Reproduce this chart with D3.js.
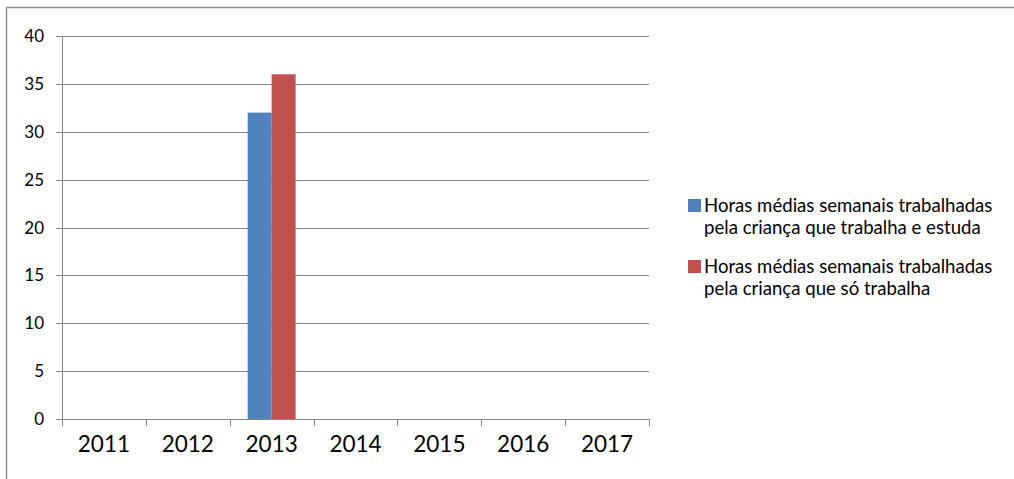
<!DOCTYPE html>
<html>
<head>
<meta charset="utf-8">
<script src="https://cdn.jsdelivr.net/npm/d3@7/dist/d3.min.js"></script>
<style>
  html, body { margin: 0; padding: 0; background: #fff; }
  svg { display: block; }
  text { font-family: Lato, "Open Sans", sans-serif; fill: #000; }
</style>
</head>
<body>
<svg id="chart" width="1014" height="479"></svg>
<script>
const categories = ["2011", "2012", "2013", "2014", "2015", "2016", "2017"];
const seriesNames = [
  ["Horas médias semanais trabalhadas", "pela criança que trabalha e estuda"],
  ["Horas médias semanais trabalhadas", "pela criança que só trabalha"]
];
const seriesA = [null, null, 32, null, null, null, null];
const seriesB = [null, null, 36, null, null, null, null];
const yTicks = [0, 5, 10, 15, 20, 25, 30, 35, 40];
const colors = ["#4F81BD", "#C0504D"];

(function () {
const svg = d3.select("#chart");
const gridColor = "#868686";

// outer frame (top and left visible)
svg.append("line").attr("x1", 6.5).attr("x2", 1014).attr("y1", 7.5).attr("y2", 7.5)
  .attr("stroke", "#8c8c8c").attr("stroke-width", 1.5);
svg.append("line").attr("x1", 6.5).attr("x2", 6.5).attr("y1", 7.5).attr("y2", 479)
  .attr("stroke", "#8c8c8c").attr("stroke-width", 1.5);

const pLeft = 62, pRight = 649, pTop = 36, pBottom = 419;
const x = d3.scaleBand().domain(categories).range([pLeft, pRight]).paddingInner(0).paddingOuter(0);
const y = d3.scaleLinear().domain([0, 40]).range([pBottom, pTop]);

// gridlines
svg.append("g").selectAll("line").data(yTicks).join("line")
  .attr("x1", pLeft - 6).attr("x2", pRight)
  .attr("y1", d => Math.round(y(d)) + 0.5).attr("y2", d => Math.round(y(d)) + 0.5)
  .attr("stroke", gridColor).attr("stroke-width", 1);

// y labels
svg.append("g").selectAll("text").data(yTicks).join("text")
  .attr("x", 44).attr("y", d => y(d)).attr("dy", "0.36em")
  .attr("text-anchor", "end").attr("font-size", 17).text(d => d);

// bars
const inner = d3.scaleBand().domain([0, 1]).range([0, x.bandwidth()]).paddingOuter(0.75).paddingInner(0);
const series = [seriesA, seriesB];
series.forEach((vals, si) => {
  svg.append("g").selectAll("rect").data(categories.map((c, i) => ({c, v: vals[i]})).filter(d => d.v != null))
    .join("rect")
    .attr("x", d => x(d.c) + inner(si))
    .attr("width", inner.bandwidth())
    .attr("y", d => y(d.v))
    .attr("height", d => y(0) - y(d.v))
    .attr("fill", colors[si]);
});

// axes lines
svg.append("line").attr("x1", pLeft + 0.5).attr("x2", pLeft + 0.5).attr("y1", pTop).attr("y2", pBottom + 7)
  .attr("stroke", gridColor);
svg.append("line").attr("x1", pLeft).attr("x2", pRight).attr("y1", pBottom + 0.5).attr("y2", pBottom + 0.5)
  .attr("stroke", gridColor);
const xEdges = categories.map(c => x(c)).concat([pRight]);
svg.append("g").selectAll("line").data(xEdges).join("line")
  .attr("x1", d => Math.round(d) + 0.5).attr("x2", d => Math.round(d) + 0.5)
  .attr("y1", pBottom).attr("y2", pBottom + 7).attr("stroke", gridColor);

// x labels
svg.append("g").selectAll("text").data(categories).join("text")
  .attr("x", d => x(d) + x.bandwidth() / 2).attr("y", 452)
  .attr("text-anchor", "middle").attr("font-size", 22.5).text(d => d);

// legend
const legY = [212, 273];
seriesNames.forEach((lines, i) => {
  const g = svg.append("g");
  g.append("rect").attr("x", 688).attr("y", legY[i] - 13).attr("width", 13).attr("height", 13)
    .attr("fill", colors[i]);
  lines.forEach((t, j) => {
    g.append("text").attr("x", 704).attr("y", legY[i] + j * 21.5)
      .attr("font-size", 18.6).text(t);
  });
});
})();
</script>
</body>
</html>
